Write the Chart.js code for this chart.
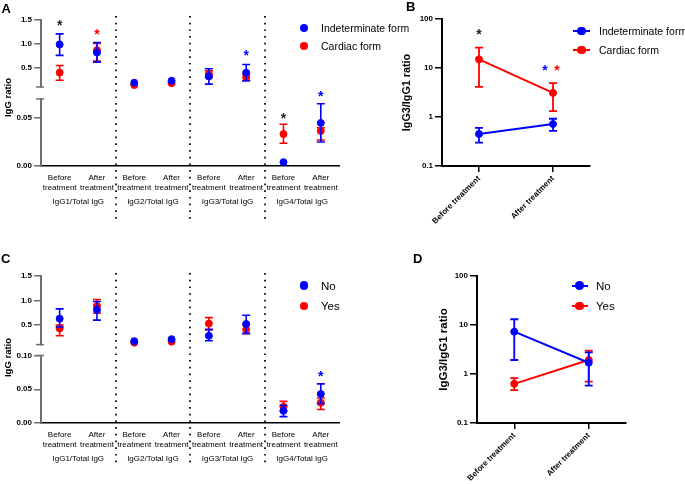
<!DOCTYPE html>
<html><head><meta charset="utf-8">
<script src="https://cdn.jsdelivr.net/npm/chart.js@4.4.1/dist/chart.umd.min.js"></script>
<style>
html,body{margin:0;padding:0;background:#fff;}
#root{position:relative;width:685px;height:484px;overflow:hidden;background:#fff;font-family:'Liberation Sans',Arial,sans-serif;color:#000;}
canvas{position:absolute;}
.t{position:absolute;white-space:nowrap;}
.dot{position:absolute;width:8.6px;height:8.6px;border-radius:50%;}
.ln{position:absolute;height:2px;}
.lg{font-size:10.5px;line-height:12px;}
.lg2{font-size:11.5px;line-height:13px;}
.let{font-weight:bold;font-size:13px;line-height:13px;}
.yt{font-weight:bold;font-size:9.5px;line-height:11px;width:60px;text-align:center;transform:rotate(-90deg);}
</style></head><body>
<div id="root">
<canvas id="cA" width="345" height="230" style="left:0;top:0"></canvas>
<canvas id="cB" width="200" height="240" style="left:400px;top:0"></canvas>
<canvas id="cC" width="345" height="230" style="left:0;top:250px"></canvas>
<canvas id="cD" width="195" height="234" style="left:436px;top:250px"></canvas>

<div class="t let" style="left:1.5px;top:1.5px">A</div>
<div class="t let" style="left:406px;top:-0.3px">B</div>
<div class="t let" style="left:1px;top:251.6px">C</div>
<div class="t let" style="left:413px;top:251.8px">D</div>

<div class="t yt" style="left:-23.3px;top:91.5px">IgG ratio</div>
<div class="t yt" style="left:-23px;top:351.5px">IgG ratio</div>

<!-- legend A -->
<div class="dot" style="left:299.7px;top:23.7px;background:#0000ff"></div>
<div class="t lg" style="left:321px;top:22px">Indeterminate form</div>
<div class="dot" style="left:299.7px;top:41.7px;background:#ff0000"></div>
<div class="t lg" style="left:321px;top:40px">Cardiac form</div>
<!-- legend B -->
<div class="ln" style="left:573px;top:30px;width:17px;background:#0000ff"></div>
<div class="dot" style="left:577.2px;top:26.7px;background:#0000ff"></div>
<div class="t lg" style="left:599px;top:25px">Indeterminate form</div>
<div class="ln" style="left:573px;top:49px;width:17px;background:#ff0000"></div>
<div class="dot" style="left:577.2px;top:45.7px;background:#ff0000"></div>
<div class="t lg" style="left:599px;top:44px">Cardiac form</div>
<!-- legend C -->
<div class="dot" style="left:299.7px;top:281.4px;background:#0000ff"></div>
<div class="t lg2" style="left:321px;top:279.5px">No</div>
<div class="dot" style="left:299.7px;top:301.7px;background:#ff0000"></div>
<div class="t lg2" style="left:321px;top:299.5px">Yes</div>
<!-- legend D -->
<div class="ln" style="left:572px;top:285px;width:16px;background:#0000ff"></div>
<div class="dot" style="left:575.2px;top:281.4px;background:#0000ff"></div>
<div class="t lg2" style="left:596px;top:279.5px">No</div>
<div class="ln" style="left:572px;top:305px;width:16px;background:#ff0000"></div>
<div class="dot" style="left:575.2px;top:301.7px;background:#ff0000"></div>
<div class="t lg2" style="left:596px;top:299.5px">Yes</div>
</div>

<script>
// ---------------- data ----------------
const groupLabels = ['IgG1/Total IgG', 'IgG2/Total IgG', 'IgG3/Total IgG', 'IgG4/Total IgG'];
const timeLabels = [['Before', 'treatment'], ['After', 'treatment']];
const ratioLabels = ['Before treatment', 'After treatment'];

const brokenHighTicks = [0.5, 1.0, 1.5];
const aLowTicks = [0, 0.05];
const cLowTicks = [0, 0.05, 0.10];
const logTicks = [0.1, 1, 10, 100];

// Panel A (order: IgG1 before/after, IgG2 before/after, IgG3 before/after, IgG4 before/after)
const aIndeterminate     = [0.99, 0.82, 0.19, 0.23, 0.32, 0.40, 0.004, 0.045];
const aIndeterminateLow  = [0.76, 0.62, null, null, 0.16, 0.23, null, 0.025];
const aIndeterminateHigh = [1.21, 1.03, null, null, 0.48, 0.57, null, 0.065];
const aCardiac     = [0.40, 0.87, 0.14, 0.18, 0.37, 0.30, 0.0334, 0.0366];
const aCardiacLow  = [0.24, 0.64, null, null, 0.30, 0.23, 0.0237, 0.0272];
const aCardiacHigh = [0.55, 1.01, null, null, 0.44, 0.36, 0.0436, 0.040];

// Panel B
const bIndeterminate     = [0.45, 0.72];
const bIndeterminateLow  = [0.30, 0.52];
const bIndeterminateHigh = [0.60, 0.92];
const bCardiac     = [15, 3.1];
const bCardiacLow  = [4.1, 1.32];
const bCardiacHigh = [26, 4.9];

// Panel C
const cNo     = [0.63, 0.81, 0.17, 0.21, 0.28, 0.52, 0.018, 0.043];
const cNoLow  = [0.46, 0.60, null, null, 0.18, 0.33, 0.0095, 0.029];
const cNoHigh = [0.83, 0.98, null, null, 0.41, 0.70, 0.026, 0.058];
const cYes     = [0.43, 0.89, 0.14, 0.16, 0.53, 0.41, 0.024, 0.030];
const cYesLow  = [0.28, 0.74, null, null, 0.40, 0.32, 0.018, 0.020];
const cYesHigh = [0.50, 1.02, null, null, 0.65, 0.50, 0.032, 0.037];

// Panel D
const dNo     = [7.3, 1.70];
const dNoLow  = [1.93, 0.58];
const dNoHigh = [13.1, 2.77];
const dYes     = [0.63, 1.93];
const dYesLow  = [0.47, 0.70];
const dYesHigh = [0.82, 3.0];

// significance asterisks (category index, axis, value, which series)
const aStars = [
  {i: 0, axis: 'yHi', v: 1.45, who: 'both'},
  {i: 1, axis: 'yHi', v: 1.28, who: 'red'},
  {i: 5, axis: 'yHi', v: 0.83, who: 'blue'},
  {i: 6, axis: 'yLo', v: 0.053, who: 'both'},
  {i: 7, axis: 'yLo', v: 0.076, who: 'blue'}
];
const bStars = [
  {i: 0, axis: 'y', v: 57, who: 'both'},
  {i: 1, axis: 'y', v: 10.5, who: 'blue'},
  {i: 1, axis: 'y', v: 10.5, who: 'red'}
];
const cStars = [
  {i: 7, axis: 'yLo', v: 0.074, who: 'blue'}
];
const dStars = [];

// ---------------- styling / helpers ----------------
const BLUE = '#0000ff', RED = '#ff0000', STAR_BLACK = '#222222', AXIS_GRAY = '#6f6f6f';
const FONT = "'Liberation Sans', Arial, sans-serif";
Chart.defaults.font.family = FONT;
Chart.defaults.color = '#000';

const catLabels = groupLabels.flatMap(() => timeLabels);
const lowGroup = groupLabels.length - 1; // last group drawn on the lower axis segment
const part = (arr, lower) => arr.map((v, i) =>
  ((Math.floor(i / timeLabels.length) === lowGroup) === lower) ? v : null);

const errorBarPlugin = {
  id: 'errorBars',
  beforeDatasetDraw(chart, args) {
    const ds = chart.data.datasets[args.index];
    if (!ds.errLow) return;
    const meta = args.meta;
    const ys = chart.scales[meta.yAxisID];
    const ctx = chart.ctx;
    ctx.save();
    ctx.strokeStyle = ds.borderColor;
    ctx.lineWidth = ds.errWidth || 1.6;
    meta.data.forEach((pt, j) => {
      if (ds.data[j] == null || ds.errLow[j] == null) return;
      const x = pt.x;
      const yl = ys.getPixelForValue(ds.errLow[j]);
      const yh = ys.getPixelForValue(ds.errHigh[j]);
      ctx.beginPath();
      ctx.moveTo(x, yl); ctx.lineTo(x, yh);
      ctx.moveTo(x - 4, yl); ctx.lineTo(x + 4, yl);
      ctx.moveTo(x - 4, yh); ctx.lineTo(x + 4, yh);
      ctx.stroke();
    });
    ctx.restore();
  }
};

const separatorPlugin = {
  id: 'separators',
  afterDraw(chart, args, opts) {
    if (!opts || opts.above === undefined) return;
    const xs = chart.scales.x, ctx = chart.ctx;
    const top = chart.chartArea.top - opts.above;
    const bottom = chart.chartArea.bottom + opts.below;
    ctx.save();
    ctx.setLineDash([1.7, 5]);
    ctx.lineWidth = 1.7;
    ctx.strokeStyle = '#000';
    const n = timeLabels.length;
    for (let g = 1; g < groupLabels.length; g++) {
      const px = Math.round((xs.getPixelForValue(g * n - 1) + xs.getPixelForValue(g * n)) / 2);
      ctx.beginPath(); ctx.moveTo(px, top); ctx.lineTo(px, bottom); ctx.stroke();
    }
    ctx.restore();
  }
};

const breakPlugin = {
  id: 'breakMarks',
  afterDraw(chart) {
    const hi = chart.scales.yHi, lo = chart.scales.yLo;
    if (!hi || !lo) return;
    const x = chart.chartArea.left - 1, ctx = chart.ctx;
    ctx.save();
    ctx.strokeStyle = AXIS_GRAY; ctx.lineWidth = 1.5;
    [hi.bottom, lo.top].forEach(y => {
      ctx.beginPath(); ctx.moveTo(x - 4, y); ctx.lineTo(x + 4, y); ctx.stroke();
    });
    ctx.restore();
  }
};

const starPlugin = {
  id: 'stars',
  afterDatasetsDraw(chart, args, opts) {
    if (!opts || !opts.items) return;
    const xs = chart.scales.x, ctx = chart.ctx;
    ctx.save();
    ctx.font = 'bold 14px ' + FONT;
    ctx.textAlign = 'center';
    ctx.textBaseline = 'alphabetic';
    const counts = {}, seen = {};
    opts.items.forEach(s => { counts[s.i] = (counts[s.i] || 0) + 1; });
    opts.items.forEach(s => {
      const n = counts[s.i];
      const k = seen[s.i] = (seen[s.i] === undefined ? 0 : seen[s.i] + 1);
      const dx = n > 1 ? (k - (n - 1) / 2) * 12 - 2 : 0;
      const x = xs.getPixelForValue(s.i) + dx;
      const y = chart.scales[s.axis].getPixelForValue(s.v);
      ctx.fillStyle = s.who === 'blue' ? BLUE : s.who === 'red' ? RED : STAR_BLACK;
      ctx.fillText('*', x, y + 8);
    });
    ctx.restore();
  }
};

function pointSeries(label, color, vals, lo, hi, axis, lower) {
  return {
    label, data: part(vals, lower), errLow: part(lo, lower), errHigh: part(hi, lower),
    xAxisID: 'x', yAxisID: axis, borderColor: color, backgroundColor: color,
    pointBackgroundColor: color, pointBorderColor: color, pointRadius: 3.5,
    pointBorderWidth: 1, showLine: false, clip: false
  };
}

function lineSeries(label, color, vals, lo, hi) {
  return {
    label, data: vals, errLow: lo, errHigh: hi, errWidth: 1.8,
    xAxisID: 'x', yAxisID: 'y', borderColor: color, backgroundColor: color, borderWidth: 2,
    pointBackgroundColor: color, pointBorderColor: color, pointRadius: 3.5,
    pointBorderWidth: 1, tension: 0, clip: false
  };
}

function brokenChart(id, cfg) {
  const datasets = [];
  cfg.series.forEach(s => {
    datasets.push(pointSeries(s.label, s.color, s.vals, s.lo, s.hi, 'yHi', false));
    datasets.push(pointSeries(s.label, s.color, s.vals, s.lo, s.hi, 'yLo', true));
  });
  const tickFont = {size: 8, weight: 'bold'};
  const yCommon = {
    type: 'linear', position: 'left', stack: 'brk',
    border: {display: true, color: AXIS_GRAY, width: 2},
    grid: {display: true, drawOnChartArea: false, drawTicks: true, tickLength: 7, color: AXIS_GRAY, lineWidth: 1.5},
    afterFit: s => { s.width = 41; }
  };
  const xTicks = {font: {size: 8, lineHeight: 1.25}, color: '#000', maxRotation: 0, minRotation: 0, autoSkip: false};
  return new Chart(document.getElementById(id), {
    type: 'line',
    data: {labels: catLabels, datasets},
    options: {
      responsive: false, animation: false, events: [],
      layout: {padding: cfg.pad},
      plugins: {
        legend: {display: false}, tooltip: {enabled: false},
        stars: {items: cfg.stars},
        separators: {above: cfg.sepAbove, below: cfg.sepBelow}
      },
      scales: {
        x: {type: 'category', position: 'bottom', offset: true, weight: 0,
            grid: {display: false, drawTicks: false},
            border: {display: true, color: '#000', width: 1.5},
            ticks: Object.assign({padding: 7}, xTicks),
            afterFit: s => { s.height = 30; }},
        xg: {type: 'category', position: 'bottom', labels: groupLabels, offset: true, weight: 1,
             grid: {display: false, drawTicks: false}, border: {display: false},
             ticks: Object.assign({padding: 1}, xTicks),
             afterFit: s => { s.height = 15; }},
        yLo: Object.assign({}, yCommon, {
          weight: 1, stackWeight: cfg.weights[2], min: 0, max: cfg.lowMax,
          afterBuildTicks: s => { s.ticks = cfg.lowTicks.map(v => ({value: v})); },
          ticks: {font: tickFont, color: '#000', padding: 2, callback: v => Number(v).toFixed(2)}
        }),
        yGap: {type: 'linear', position: 'left', stack: 'brk', weight: 2, stackWeight: cfg.weights[1],
               grid: {display: false, drawTicks: false}, border: {display: false}, ticks: {display: false},
               afterFit: s => { s.width = 41; }},
        yHi: Object.assign({}, yCommon, {
          weight: 3, stackWeight: cfg.weights[0], min: 0.1, max: 1.5,
          afterBuildTicks: s => { s.ticks = brokenHighTicks.map(v => ({value: v})); },
          ticks: {font: tickFont, color: '#000', padding: 2, callback: v => Number(v).toFixed(1)}
        })
      }
    },
    plugins: [errorBarPlugin, separatorPlugin, breakPlugin, starPlugin]
  });
}

function ratioChart(id, cfg) {
  return new Chart(document.getElementById(id), {
    type: 'line',
    data: {labels: ratioLabels, datasets: cfg.datasets},
    options: {
      responsive: false, animation: false, events: [],
      layout: {padding: cfg.pad},
      plugins: {legend: {display: false}, tooltip: {enabled: false}, stars: {items: cfg.stars}},
      scales: {
        x: {type: 'category', offset: true,
            grid: {display: true, drawOnChartArea: false, drawTicks: true, tickLength: 6, color: '#000', lineWidth: 1.5},
            border: {display: true, color: '#000', width: 2},
            ticks: {font: {size: 8, weight: 'bold'}, color: '#000', padding: 2, maxRotation: 45, minRotation: 45, autoSkip: false},
            afterFit: s => { s.height = cfg.xHeight; }},
        y: {type: 'logarithmic', position: 'left', min: 0.1, max: 100,
            afterBuildTicks: s => { s.ticks = logTicks.map(v => ({value: v})); },
            grid: {display: true, drawOnChartArea: false, drawTicks: true, tickLength: 7, color: '#000', lineWidth: 1.5},
            border: {display: true, color: '#000', width: 2},
            ticks: {font: {size: 8, weight: 'bold'}, color: '#000', padding: 2, callback: v => String(v)},
            title: {display: true, text: 'IgG3/IgG1 ratio', font: {size: cfg.titleSize, weight: 'bold'}, color: '#000', padding: {top: cfg.titlePad, bottom: 0}},
            afterFit: s => { s.width = cfg.yWidth; }}
      }
    },
    plugins: [errorBarPlugin, starPlugin]
  });
}

// ---------------- charts ----------------
brokenChart('cA', {
  series: [
    {label: 'Indeterminate form', color: BLUE, vals: aIndeterminate, lo: aIndeterminateLow, hi: aIndeterminateHigh},
    {label: 'Cardiac form', color: RED, vals: aCardiac, lo: aCardiacLow, hi: aCardiacHigh}
  ],
  lowMax: 0.07, lowTicks: aLowTicks, weights: [67, 12, 67],
  pad: {left: 0, right: 1, top: 20, bottom: 19},
  stars: aStars, sepAbove: 4, sepBelow: 54
});

brokenChart('cC', {
  series: [
    {label: 'No', color: BLUE, vals: cNo, lo: cNoLow, hi: cNoHigh},
    {label: 'Yes', color: RED, vals: cYes, lo: cYesLow, hi: cYesHigh}
  ],
  lowMax: 0.10, lowTicks: cLowTicks, weights: [68.6, 10.9, 67.5],
  pad: {left: 0, right: 1, top: 26, bottom: 12},
  stars: cStars, sepAbove: 3, sepBelow: 44
});

ratioChart('cB', {
  datasets: [
    lineSeries('Indeterminate form', BLUE, bIndeterminate, bIndeterminateLow, bIndeterminateHigh),
    lineSeries('Cardiac form', RED, bCardiac, bCardiacLow, bCardiacHigh)
  ],
  pad: {left: 0, right: 10, top: 19, bottom: 4},
  xHeight: 70, yWidth: 42, titleSize: 10.8, titlePad: 0.4, stars: bStars
});

ratioChart('cD', {
  datasets: [
    lineSeries('No', BLUE, dNo, dNoLow, dNoHigh),
    lineSeries('Yes', RED, dYes, dYesLow, dYesHigh)
  ],
  pad: {left: 0, right: 4, top: 26, bottom: 1},
  xHeight: 60, yWidth: 41, titleSize: 11.5, titlePad: 1, stars: dStars
});
</script>
</body></html>
